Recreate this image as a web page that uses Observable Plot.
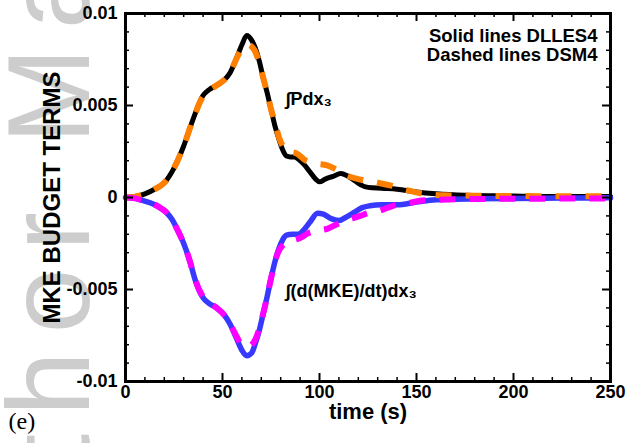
<!DOCTYPE html>
<html><head><meta charset="utf-8">
<script src="https://cdn.jsdelivr.net/npm/d3@7"></script>
<script src="https://cdn.jsdelivr.net/npm/@observablehq/plot@0.6"></script>
<style>html,body{margin:0;padding:0;background:#fff;overflow:hidden;}</style>
</head><body><div id="chart"></div>
<script>
// ∫P dx3, DLLES4 (solid black)
const pTimeLES = [0, 5, 10, 15, 20, 25, 30, 35, 40, 43, 47, 51, 54, 57, 60, 62.5, 65, 67, 69, 71, 73, 75, 77, 79, 81, 83, 85, 87, 89, 92, 95, 98, 100, 103, 107, 111, 114, 117, 121, 125, 132, 140, 150, 160, 175, 200, 225, 250];
const pValLES = [0, 0.00005, 0.0002, 0.00045, 0.0008, 0.0016, 0.0028, 0.0043, 0.00555, 0.00585, 0.0061, 0.0064, 0.0068, 0.0075, 0.0083, 0.0088, 0.00855, 0.0081, 0.0074, 0.0065, 0.0057, 0.0048, 0.0039, 0.0032, 0.0026, 0.00225, 0.0022, 0.0022, 0.0021, 0.0018, 0.0014, 0.001, 0.00085, 0.001, 0.00115, 0.0013, 0.0012, 0.001, 0.0007, 0.00055, 0.0005, 0.00045, 0.0003, 0.0002, 0.00012, 0.00008, 0.00005, 0.00005];
// ∫P dx3, DSM4 (dashed orange)
const pTimeDSM = [0, 5, 10, 15, 20, 25, 30, 35, 40, 43, 47, 51, 54, 57, 60, 63, 65, 67, 69, 71, 73, 75, 77, 79, 81, 84, 88, 93, 98, 104, 109, 114, 120, 125, 130, 137, 145, 154, 165, 180, 200, 225, 250];
const pValDSM = [0, 0.00005, 0.0002, 0.00045, 0.0008, 0.0016, 0.0028, 0.0043, 0.0055, 0.0058, 0.0061, 0.0064, 0.0068, 0.0075, 0.0081, 0.0083, 0.0082, 0.0079, 0.0073, 0.0065, 0.0057, 0.0048, 0.0041, 0.0033, 0.0028, 0.0025, 0.0024, 0.002, 0.00185, 0.00175, 0.0015, 0.0012, 0.001, 0.0009, 0.0008, 0.00065, 0.0004, 0.0002, 0.00012, 0.0001, 0.00008, 0.00007, 0.00006];
// ∫(d(MKE)/dt) dx3, DLLES4 (solid blue)
const mTimeLES = [0, 5, 10, 13, 17, 21, 24, 27, 30, 33, 36, 40, 43, 47, 51, 54, 57, 60, 62.5, 65, 67, 69, 71, 73, 75, 77, 79, 81, 83, 86, 89, 92, 95, 99, 102, 106, 110, 114, 118, 122, 126, 132, 140, 150, 157, 165, 180, 200, 225, 250];
const mValLES = [0, -0.00005, -0.0002, -0.0003, -0.0005, -0.0008, -0.0012, -0.0018, -0.0025, -0.0034, -0.0045, -0.00545, -0.00575, -0.006, -0.0064, -0.0069, -0.0076, -0.0083, -0.0086, -0.00845, -0.0079, -0.0072, -0.0063, -0.0054, -0.0044, -0.0035, -0.0028, -0.0023, -0.00205, -0.002, -0.002, -0.00175, -0.00135, -0.00085, -0.0009, -0.00115, -0.00125, -0.00105, -0.0008, -0.00055, -0.00045, -0.0004, -0.0004, -0.00025, -0.00015, -0.0001, -0.00007, -0.00005, -0.00003, -0.00002];
// ∫(d(MKE)/dt) dx3, DSM4 (dashed magenta)
const mTimeDSM = [0, 5, 10, 13, 17, 21, 24, 27, 30, 33, 36, 40, 43, 47, 51, 54, 57, 60, 63, 65, 67, 69, 71, 73, 75, 77, 79, 81, 84, 87, 90, 94, 99, 104, 109, 115, 121, 125, 130, 138, 146, 154, 170, 200, 225, 250];
const mValDSM = [0, -0.00005, -0.0002, -0.0003, -0.0005, -0.0008, -0.0012, -0.0018, -0.0025, -0.0034, -0.0045, -0.0054, -0.0057, -0.006, -0.0064, -0.0069, -0.0075, -0.008, -0.0081, -0.008, -0.0077, -0.0071, -0.0063, -0.0054, -0.0044, -0.0035, -0.0029, -0.0026, -0.0024, -0.0023, -0.0022, -0.00195, -0.0018, -0.0017, -0.00145, -0.0012, -0.001, -0.00085, -0.00075, -0.00045, -0.0003, -0.00015, -0.0001, -0.00007, -0.00006, -0.00005];

const xMajor = [0, 50, 100, 150, 200, 250];
const xMinor = [10, 20, 30, 40, 60, 70, 80, 90, 110, 120, 130, 140, 160, 170, 180, 190, 210, 220, 230, 240];
const yMajor = [-0.01, -0.005, 0, 0.005, 0.01];
const yTickLabels = ["-0.01", "-0.005", "0", "0.005", "0.01"];
const yMinor = [-0.009, -0.008, -0.007, -0.006, -0.004, -0.003, -0.002, -0.001, 0.001, 0.002, 0.003, 0.004, 0.006, 0.007, 0.008, 0.009];

const annotLabels = ["∫Pdx₃", "∫(d(MKE)/dt)dx₃"];
const annotT = [82.5, 82.5];
const annotV = [0.00505, -0.0054];
const legendText = "Solid lines DLLES4\nDashed lines DSM4";
const xTitle = "time (s)";
const yTitle = "MKE BUDGET TERMS";
const panelTag = "(e)";
const watermark = "Author Manuscript";

const toRows = (ts, vs) => ts.map((t, i) => ({t, v: vs[i]}));
const lesP = toRows(pTimeLES, pValLES);
const dsmP = toRows(pTimeDSM, pValDSM);
const lesM = toRows(mTimeLES, mValLES);
const dsmM = toRows(mTimeDSM, mValDSM);
const annots = annotLabels.map((s, i) => ({s, t: annotT[i], v: annotV[i]}));
const yLabelMap = new Map(yMajor.map((v, i) => [v, yTickLabels[i]]));

const W = 633, H = 443, ML = 125, MR = 23, MT = 13, MB = 62;
const FW = W - ML - MR, FH = H - MT - MB;
const dash = {strokeDasharray: "16,14", strokeLinecap: "butt", strokeWidth: 6, curve: "monotone-x"};

// faint rotated watermark behind the chart (custom render mark)
const watermarkMark = () => {
  const t = document.createElementNS("http://www.w3.org/2000/svg", "text");
  t.setAttribute("transform", "translate(89,644) rotate(-90)");
  t.setAttribute("font-size", "116");
  t.setAttribute("font-weight", "normal");
  t.setAttribute("text-anchor", "start");
  t.setAttribute("fill", "#cdcdcd");
  t.setAttribute("font-family", "'Liberation Sans', Arial, sans-serif");
  t.style.letterSpacing = "18px";
  t.textContent = watermark;
  return t;
};

const plot = Plot.plot({
  width: W, height: H,
  marginLeft: ML, marginRight: MR, marginTop: MT, marginBottom: MB,
  style: {fontFamily: "'Liberation Sans', Arial, 'DejaVu Sans', sans-serif", fontWeight: "bold", background: "transparent", color: "#000"},
  x: {domain: [0, 250]},
  y: {domain: [-0.01, 0.01]},
  marks: [
    watermarkMark,
    Plot.line(lesP, {x: "t", y: "v", stroke: "#000000", strokeWidth: 5, curve: "monotone-x"}),
    Plot.line(lesM, {x: "t", y: "v", stroke: "#3838ff", strokeWidth: 5.5, curve: "monotone-x"}),
    Plot.line(dsmP, {x: "t", y: "v", stroke: "#ff8000", ...dash}),
    Plot.line(dsmM, {x: "t", y: "v", stroke: "#ff00ff", ...dash}),
    Plot.tickX(xMajor, {x: d => d, insetTop: FH - 8, strokeWidth: 2}),
    Plot.tickX(xMinor, {x: d => d, insetTop: FH - 4, strokeWidth: 1.5}),
    Plot.tickX(xMajor, {x: d => d, insetBottom: FH - 8, strokeWidth: 2}),
    Plot.tickX(xMinor, {x: d => d, insetBottom: FH - 4, strokeWidth: 1.5}),
    Plot.tickY(yMajor, {y: d => d, insetRight: FW - 8, strokeWidth: 2}),
    Plot.tickY(yMinor, {y: d => d, insetRight: FW - 4, strokeWidth: 1.5}),
    Plot.tickY(yMajor, {y: d => d, insetLeft: FW - 8, strokeWidth: 2}),
    Plot.tickY(yMinor, {y: d => d, insetLeft: FW - 4, strokeWidth: 1.5}),
    Plot.frame({stroke: "#000", strokeWidth: 3}),
    Plot.axisX({ticks: xMajor, tickSize: 0, tickPadding: 4, fontSize: 18, label: null, tickFormat: d => String(d)}),
    Plot.axisY({ticks: yMajor, tickSize: 0, tickPadding: 8, fontSize: 18, label: null, tickFormat: d => yLabelMap.get(d)}),
    Plot.text([xTitle], {frameAnchor: "bottom", textAnchor: "middle", lineAnchor: "bottom", dy: 37, fontSize: 22}),
    Plot.text([yTitle], {frameAnchor: "left", textAnchor: "middle", lineAnchor: "middle", rotate: -90, dx: -73.5, fontSize: 24}),
    Plot.text([legendText], {frameAnchor: "top-right", textAnchor: "end", lineAnchor: "top", dx: -13, dy: 16, fontSize: 18.5, lineHeight: 0.98}),
    Plot.text(annots, {x: "t", y: "v", text: "s", textAnchor: "start", lineAnchor: "bottom", fontSize: 18}),
    Plot.text([panelTag], {frameAnchor: "bottom-left", dx: -117, dy: 47, textAnchor: "start", lineAnchor: "bottom", fontSize: 24, fontWeight: "normal", fontFamily: "'Liberation Serif', 'DejaVu Serif', serif"})
  ]
});
plot.style.overflow = "hidden";
document.getElementById("chart").append(plot);
</script></body></html>
